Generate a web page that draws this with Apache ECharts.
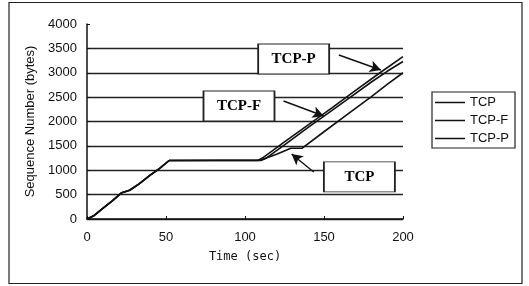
<!DOCTYPE html>
<html>
<head>
<meta charset="utf-8">
<script src="https://cdn.jsdelivr.net/npm/echarts@6/dist/echarts.min.js"></script>
<style>
  html, body { margin: 0; padding: 0; background: #fff; }
  #chart { width: 529px; height: 286px; }
</style>
</head>
<body>
<div id="chart"></div>
<script>
// time (sec) and sequence number (bytes)
var tcpTime  = [0, 4, 10, 16, 22, 27, 33, 40, 46, 52, 110, 120, 129, 136, 150, 165, 180, 190, 200]
var tcpSeq   = [0, 60, 220, 370, 540, 590, 720, 900, 1040, 1200, 1210, 1330, 1450, 1450, 1790, 2150, 2510, 2760, 3000]
var tcpfTime = [0, 4, 10, 16, 22, 27, 33, 40, 46, 52, 110, 113, 125, 140, 150, 165, 180, 190, 200]
var tcpfSeq  = [0, 60, 220, 370, 540, 590, 720, 900, 1040, 1200, 1200, 1240, 1520, 1880, 2110, 2460, 2810, 3030, 3230]
var tcppTime = [0, 4, 10, 16, 22, 27, 33, 40, 46, 52, 108, 111, 125, 140, 155, 170, 185, 200]
var tcppSeq  = [0, 60, 220, 370, 540, 590, 720, 900, 1040, 1200, 1200, 1250, 1580, 1930, 2280, 2640, 2990, 3330]

var seriesNames = ['TCP', 'TCP-F', 'TCP-P']
var xTicks = [0, 50, 100, 150, 200]

function pairs(xs, ys) {
  return xs.map(function (x, i) { return [x, ys[i]] })
}

// annotation boxes [time, seq] and their arrows
var labelBoxes = [
  { name: 'TCP-P', coord: [130.8, 3282] },
  { name: 'TCP-F', coord: [96.2, 2318] },
  { name: 'TCP', coord: [172.4, 862] }
]
var arrows = [
  [[159.4, 3364], [186, 3056]],
  [[124.4, 2420], [149.8, 2113]],
  [[143.5, 964], [129.5, 1333]]
]

var chart = echarts.init(document.getElementById('chart'))

var lineStyle = { color: '#111', width: 1.6 }

chart.setOption({
  animation: false,
  backgroundColor: '#fff',
  graphic: [{
    type: 'rect',
    shape: { x: 9, y: 2.5, width: 513, height: 281 },
    style: { fill: 'none', stroke: '#222', lineWidth: 1.2 },
    silent: true
  }],
  grid: { left: 87, right: 126, top: 24, bottom: 67 },
  legend: {
    data: seriesNames,
    orient: 'vertical',
    left: 432,
    top: 92,
    padding: [4, 6, 3, 3],
    itemGap: 5,
    itemWidth: 30,
    itemHeight: 1.5,
    icon: 'rect',
    borderColor: '#222',
    borderWidth: 1.2,
    textStyle: { fontFamily: 'Liberation Sans', fontSize: 13, color: '#111' }
  },
  xAxis: {
    type: 'value',
    min: 0,
    max: 200,
    interval: 50,
    name: 'Time (sec)',
    nameLocation: 'middle',
    nameGap: 32,
    nameTextStyle: { fontFamily: 'DejaVu Sans Mono', fontSize: 12, color: '#111' },
    axisLine: { lineStyle: { color: '#111', width: 1.5 } },
    axisTick: { inside: true, length: 3, lineStyle: { color: '#111' } },
    axisLabel: {
      margin: 12, fontFamily: 'Liberation Sans', fontSize: 13, color: '#111',
      formatter: function (v) { return xTicks.indexOf(v) >= 0 ? String(v) : '' }
    },
    splitLine: { show: false }
  },
  yAxis: {
    type: 'value',
    min: 0,
    max: 4000,
    interval: 500,
    name: 'Sequence Number (bytes)',
    nameLocation: 'middle',
    nameGap: 48,
    nameTextStyle: { fontFamily: 'Liberation Sans', fontSize: 13, color: '#111' },
    axisLine: { show: true, lineStyle: { color: '#111', width: 1.5 } },
    axisTick: { show: true, inside: true, length: 3, lineStyle: { color: '#111' } },
    axisLabel: {
      margin: 10, fontFamily: 'Liberation Sans', fontSize: 13, color: '#111',
      formatter: function (v) { return String(v) }
    },
    splitLine: { show: true, showMaxLine: false, lineStyle: { color: '#222', width: 1.3 } }
  },
  series: [
    {
      name: 'TCP', type: 'line', symbol: 'none',
      data: pairs(tcpTime, tcpSeq),
      lineStyle: lineStyle, itemStyle: { color: '#111' },
      markPoint: {
        symbol: 'rect',
        symbolSize: [71, 30],
        itemStyle: { color: '#fff', borderColor: '#222', borderWidth: 1.2 },
        label: {
          show: true, position: 'inside', color: '#000',
          fontFamily: 'Liberation Serif', fontWeight: 'bold', fontSize: 15,
          formatter: '{b}'
        },
        data: labelBoxes.map(function (b) { return { name: b.name, coord: b.coord } }),
        z: 5
      },
      markLine: {
        silent: true,
        symbol: ['none', 'arrow'],
        symbolSize: [9, 11],
        label: { show: false },
        lineStyle: { color: '#111', width: 1.4, type: 'solid' },
        data: arrows.map(function (a) { return [{ coord: a[0] }, { coord: a[1] }] })
      }
    },
    {
      name: 'TCP-F', type: 'line', symbol: 'none',
      data: pairs(tcpfTime, tcpfSeq),
      lineStyle: lineStyle, itemStyle: { color: '#111' }
    },
    {
      name: 'TCP-P', type: 'line', symbol: 'none',
      data: pairs(tcppTime, tcppSeq),
      lineStyle: lineStyle, itemStyle: { color: '#111' }
    }
  ]
})
</script>
</body>
</html>
